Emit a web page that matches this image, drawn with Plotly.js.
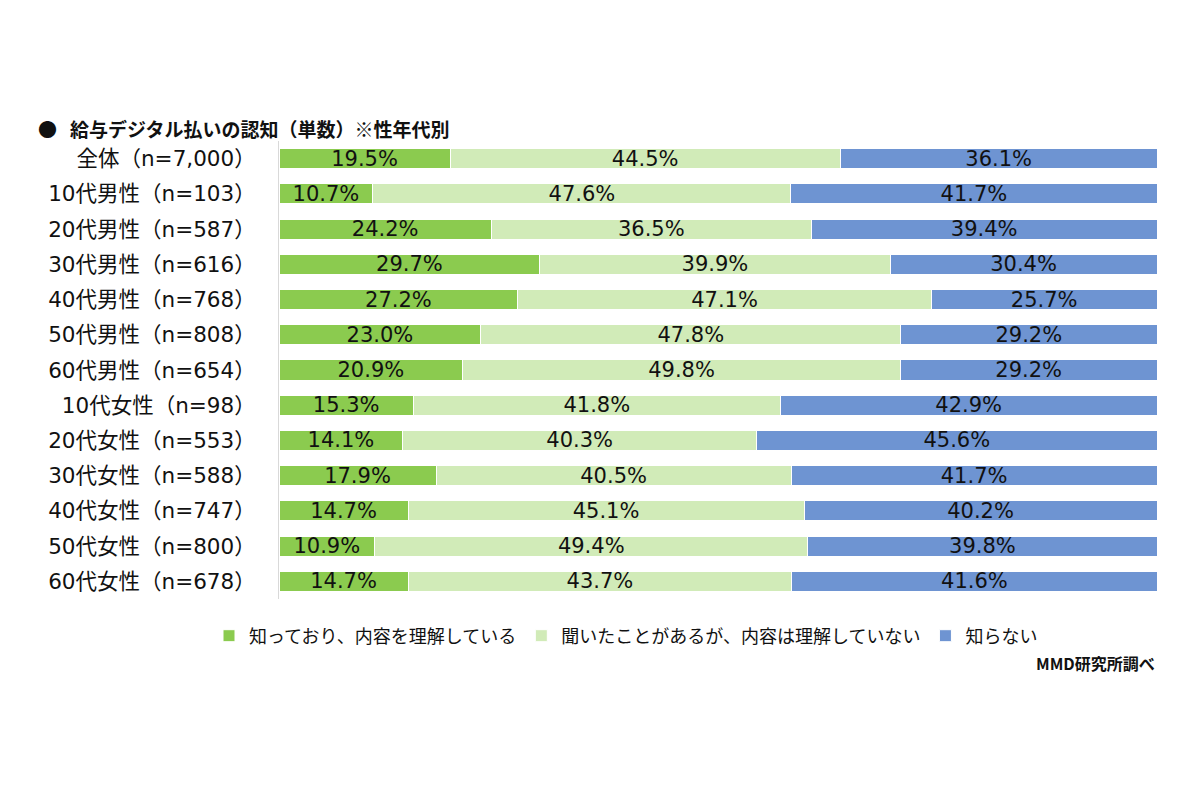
<!DOCTYPE html>
<html><head><meta charset="utf-8">
<script src="https://cdn.plot.ly/plotly-3.0.1.min.js"></script>
<style>body{margin:0;background:#fff}#c{width:1200px;height:800px}</style>
</head><body><div id="c"></div>
<script>
const categories = ["全体（n=7,000）","10代男性（n=103）","20代男性（n=587）","30代男性（n=616）","40代男性（n=768）","50代男性（n=808）","60代男性（n=654）","10代女性（n=98）","20代女性（n=553）","30代女性（n=588）","40代女性（n=747）","50代女性（n=800）","60代女性（n=678）"];
const knowUnderstand = [19.5,10.7,24.2,29.7,27.2,23.0,20.9,15.3,14.1,17.9,14.7,10.9,14.7];
const heardNotUnderstand = [44.5,47.6,36.5,39.9,47.1,47.8,49.8,41.8,40.3,40.5,45.1,49.4,43.7];
const dontKnow = [36.1,41.7,39.4,30.4,25.7,29.2,29.2,42.9,45.6,41.7,40.2,39.8,41.6];
const seriesNames = ["知っており、内容を理解している","聞いたことがあるが、内容は理解していない","知らない"];
const colors = ["#8BCB4F","#D1EBB8","#6E94D2"];
const FONT = "DejaVu Sans, 'Noto Sans CJK JP', sans-serif";
const JP = "'Noto Sans CJK JP', sans-serif";

const data = [knowUnderstand, heardNotUnderstand, dontKnow].map((vals,i)=>({
  type:'bar', orientation:'h', name:seriesNames[i],
  y:categories, x:vals,
  text: vals.map(v=>v.toFixed(1)+'%'),
  textposition:'inside', insidetextanchor:'middle', constraintext:'none',
  textfont:{family:FONT,size:21,color:'#111'},
  hoverinfo:'none',
  marker:{color:colors[i], line:{color:'#ffffff', width:1}},
  width:0.57
}));

const layout = {
  width:1200, height:800,
  margin:{l:279,r:43,t:141,b:201},
  barmode:'stack', barnorm:'percent',
  paper_bgcolor:'#fff', plot_bgcolor:'#fff',
  font:{family:FONT, color:'#111'},
  showlegend:true,
  legend:{orientation:'h', x:626/1200, xanchor:'center', xref:'container', y:1-636/800, yref:'container', yanchor:'middle',
    font:{family:JP, size:18, color:'#111'}, traceorder:'normal'},
  xaxis:{range:[0,100], showgrid:false, zeroline:false, showticklabels:false, showline:false, fixedrange:true},
  yaxis:{autorange:'reversed', showgrid:false, zeroline:false, showline:true, linecolor:'#d9d9d9', linewidth:1,
    ticks:'', ticklabelstandoff:18, tickfont:{family:FONT,size:21.5,color:'#111'}},
  annotations:[
    {text:'<b>●\u00a0\u00a0\u00a0給与デジタル払いの認知（単数）※性年代別</b>', xref:'paper', yref:'paper',
     x:(36-279)/878, y:(599-128)/458, xanchor:'left', yanchor:'middle', showarrow:false,
     font:{family:JP, size:19, color:'#111'}},
    {text:'<b>MMD研究所調べ</b>', xref:'paper', yref:'paper', x:1, y:(599-663)/458,
     xanchor:'right', yanchor:'middle', showarrow:false,
     font:{family:JP, size:16, color:'#111'}}
  ]
};
Plotly.newPlot('c', data, layout, {displayModeBar:false, staticPlot:true});
</script></body></html>
